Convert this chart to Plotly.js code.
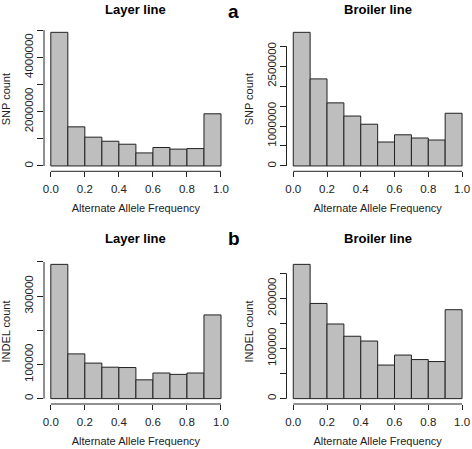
<!DOCTYPE html>
<html><head><meta charset="utf-8">
<script src="https://cdn.plot.ly/plotly-3.0.1.min.js"></script>
<style>html,body{margin:0;padding:0;background:#fff}#chart{width:472px;height:449px}</style>
</head><body><div id="chart"></div>
<script>
// ---- data ----
const binStarts = [0.0, 0.1, 0.2, 0.3, 0.4, 0.5, 0.6, 0.7, 0.8, 0.9];
const binWidth = 0.1;
const xTickVals = [0, 0.2, 0.4, 0.6, 0.8, 1.0];
const xTickText = ['0.0', '0.2', '0.4', '0.6', '0.8', '1.0'];

const layerSnp     = [4920000, 1440000, 1060000, 910000, 800000, 480000, 680000, 620000, 640000, 1920000];
const broilerSnp   = [3346000, 2180000, 1580000, 1250000, 1045000, 600000, 780000, 700000, 650000, 1320000];
const layerIndel   = [393000, 131000, 104000, 92000, 91000, 55000, 75000, 71000, 75000, 245000];
const broilerIndel = [268000, 190000, 149000, 124500, 115000, 67000, 87000, 78000, 74000, 177500];

const layerSnpTicks     = [0, 1000000, 2000000, 3000000, 4000000, 5000000];
const layerSnpLabels    = ['0', '', '2000000', '', '4000000', ''];
const broilerSnpTicks   = [0, 500000, 1000000, 1500000, 2000000, 2500000, 3000000];
const broilerSnpLabels  = ['0', '', '1000000', '', '', '2500000', ''];
const layerIndelTicks   = [0, 100000, 200000, 300000, 400000];
const layerIndelLabels  = ['0', '100000', '', '300000', ''];
const broilerIndelTicks = [0, 50000, 100000, 150000, 200000, 250000];
const broilerIndelLabels= ['0', '', '100000', '', '200000', ''];

const panelTitles = ['Layer line', 'Broiler line', 'Layer line', 'Broiler line'];
const yTitles = ['SNP count', 'SNP count', 'INDEL count', 'INDEL count'];
const xTitle = 'Alternate Allele Frequency';
const panelLetters = ['a', 'b'];

// ---- layout geometry (pixels) ----
const W = 472, H = 449;
const colX = [[44, 227.8], [286.5, 468.8]];
const rowY = [[27, 171.3], [259, 404]];
const FONT = 'Liberation Sans, Arial, Helvetica, sans-serif';
const INK = '#222';

const panels = [
  {vals: layerSnp,     ticks: layerSnpTicks,     labels: layerSnpLabels,     col: 0, row: 0},
  {vals: broilerSnp,   ticks: broilerSnpTicks,   labels: broilerSnpLabels,   col: 1, row: 0},
  {vals: layerIndel,   ticks: layerIndelTicks,   labels: layerIndelLabels,   col: 0, row: 1},
  {vals: broilerIndel, ticks: broilerIndelTicks, labels: broilerIndelLabels, col: 1, row: 1}
];

const data = [];
const layout = {
  width: W, height: H,
  margin: {l: 0, r: 0, t: 0, b: 0},
  paper_bgcolor: '#fff', plot_bgcolor: '#fff',
  showlegend: false,
  font: {family: FONT, size: 11, color: INK},
  shapes: [], annotations: []
};

panels.forEach((p, i) => {
  const n = i + 1;
  const xa = 'x' + (n === 1 ? '' : n), ya = 'y' + (n === 1 ? '' : n);
  const xk = 'xaxis' + (n === 1 ? '' : n), yk = 'yaxis' + (n === 1 ? '' : n);
  data.push({
    type: 'bar', x: binStarts, y: p.vals, width: binWidth, offset: 0,
    xaxis: xa, yaxis: ya,
    marker: {color: '#bebebe', line: {color: '#222', width: 1}},
    hoverinfo: 'x+y'
  });
  const ymax = Math.max(...p.vals);
  const cx = colX[p.col], ry = rowY[p.row];
  layout[xk] = {
    domain: [cx[0] / W, cx[1] / W],
    range: [-0.04, 1.04], anchor: ya,
    showgrid: false, zeroline: false, showline: false,
    tickvals: xTickVals, ticktext: xTickText,
    ticks: 'outside', ticklen: 5, tickwidth: 1, tickcolor: INK,
    tickfont: {size: 11.5, color: INK}, ticklabelstandoff: 2,
    title: {text: xTitle, font: {size: 11, color: INK}, standoff: 10}
  };
  layout[yk] = {
    domain: [1 - ry[1] / H, 1 - ry[0] / H],
    range: [-0.04 * ymax, 1.04 * ymax], anchor: xa,
    showgrid: false, zeroline: false, showline: false,
    tickvals: p.ticks, ticktext: p.labels, tickangle: -90,
    ticks: 'outside', ticklen: 6, tickwidth: 1, tickcolor: INK,
    tickfont: {size: 11.5, color: INK}, ticklabelstandoff: -1,
    title: {text: yTitles[i], font: {size: 11, color: INK}, standoff: 10}
  };
  // R-style axis lines spanning first to last tick
  layout.shapes.push({
    type: 'line', xref: xa, yref: ya + ' domain',
    x0: xTickVals[0], x1: xTickVals[xTickVals.length - 1], y0: 0, y1: 0,
    line: {color: INK, width: 1}
  });
  layout.shapes.push({
    type: 'line', xref: xa + ' domain', yref: ya,
    x0: 0, x1: 0, y0: p.ticks[0], y1: p.ticks[p.ticks.length - 1],
    line: {color: INK, width: 1}
  });
  // panel title
  layout.annotations.push({
    xref: 'paper', yref: 'paper',
    x: (cx[0] + cx[1]) / 2 / W, y: 1 - (p.row === 0 ? 9.5 : 238.5) / H,
    xanchor: 'center', yanchor: 'middle', showarrow: false,
    text: '<b>' + panelTitles[i] + '</b>', font: {size: 13, color: '#000', family: FONT}
  });
});

panelLetters.forEach((t, r) => {
  layout.annotations.push({
    xref: 'paper', yref: 'paper',
    x: 233.5 / W, y: r === 0 ? 1 : 1 - 238 / H,
    xanchor: 'center', yanchor: r === 0 ? 'top' : 'middle', showarrow: false,
    borderpad: 0,
    text: '<b>' + t + '</b>', font: {size: 19, color: '#000', family: FONT}
  });
});

Plotly.newPlot('chart', data, layout, {displayModeBar: false, staticPlot: true});
</script>
</body></html>
